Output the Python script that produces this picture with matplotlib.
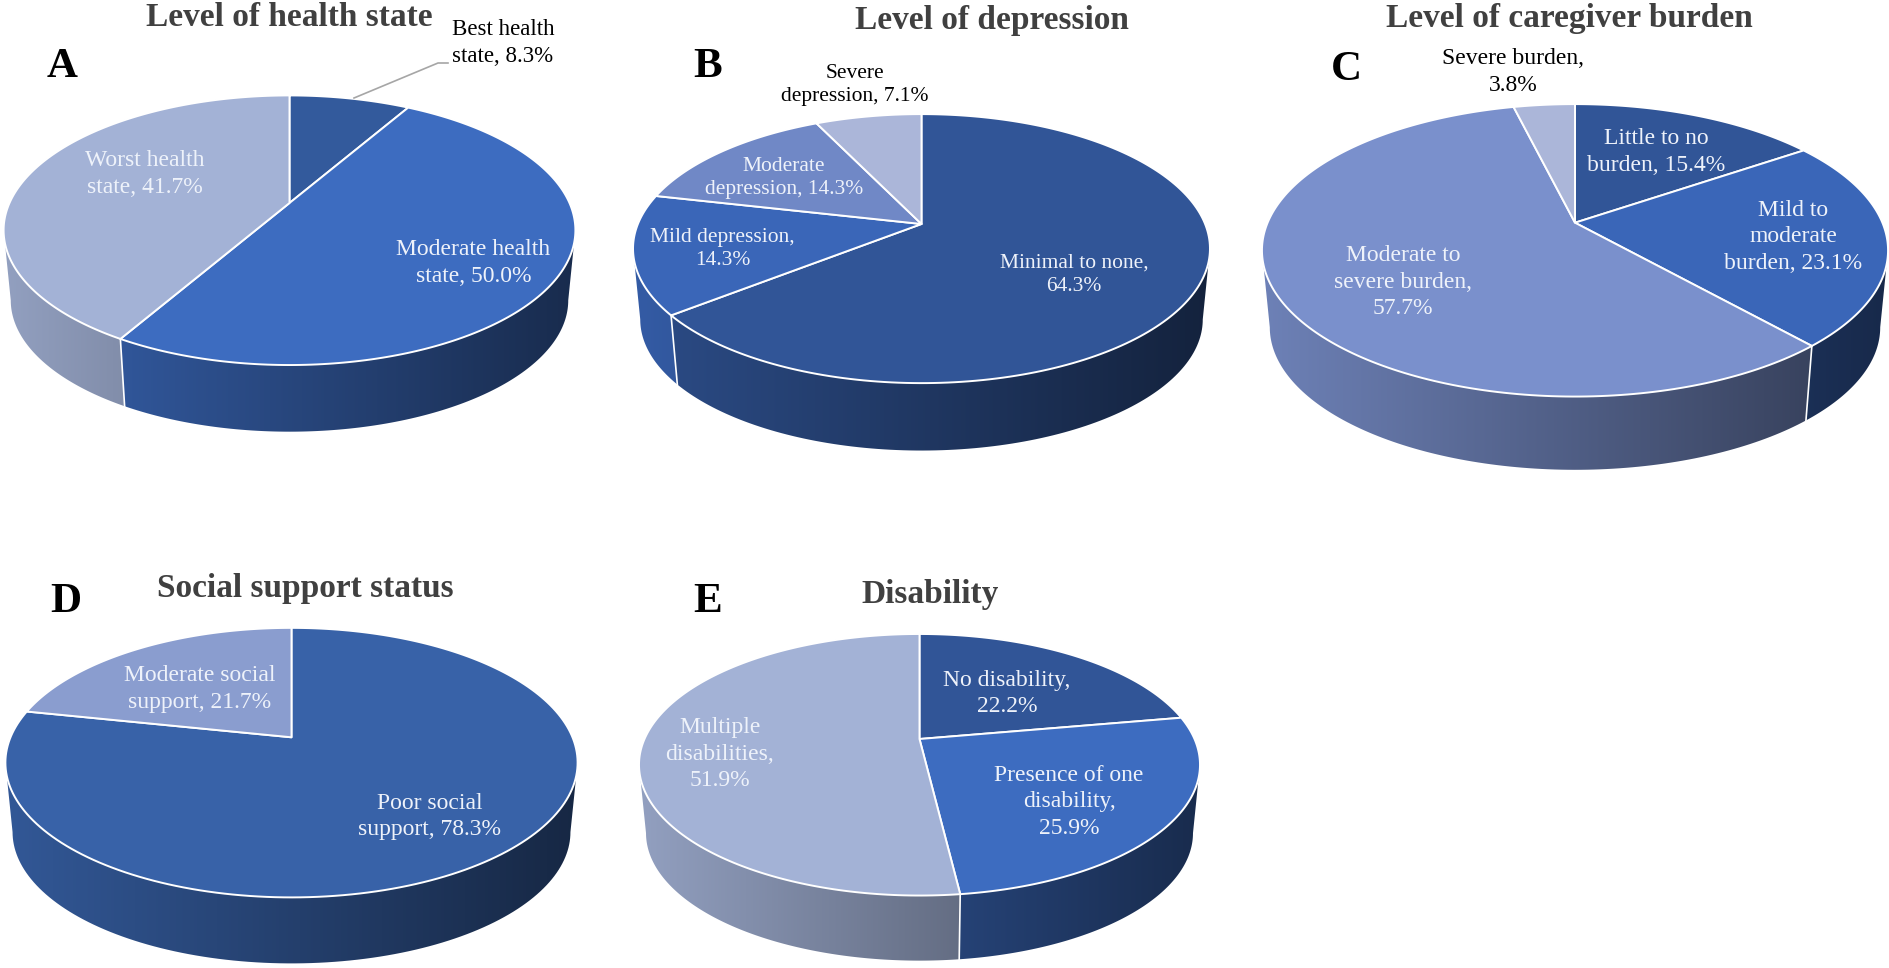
import numpy as np
import matplotlib
matplotlib.use("Agg")
import matplotlib.pyplot as plt
from matplotlib.colors import to_rgb
from matplotlib.patches import Polygon

plt.rcParams['font.family'] = ['Liberation Serif', 'DejaVu Serif']

# values, percent, clockwise from 12 o'clock
health_values = [8.3, 50.0, 41.7]
depression_values = [64.3, 14.3, 14.3, 7.1]
burden_values = [15.4, 23.1, 57.7, 3.8]
support_values = [78.3, 21.7]
disability_values = [22.2, 25.9, 51.9]

titles = ["Level of health state", "Level of depression", "Level of caregiver burden",
          "Social support status", "Disability"]
letters = ["A", "B", "C", "D", "E"]

health_colors = ["#335a9c", "#3d6cc0", "#a3b2d6"]
depression_colors = ["#315597", "#3a66b8", "#7088c6", "#abb6d9"]
burden_colors = ["#315597", "#3a66b8", "#7a90cc", "#abb6d9"]
support_colors = ["#3862a8", "#8a9dcf"]
disability_colors = ["#315597", "#3d6cc0", "#a3b2d6"]

# pie geometry in image pixels: cx, cy, a, b, perspective, depth
geometry = [
    (289.5, 203, 280, 129.3, 0.202, 70.7),
    (921.5, 224, 283.6, 130, 0.183, 71.4),
    (1575, 222.7, 307.4, 141, 0.189, 77.6),
    (291.5, 737.3, 281, 130, 0.188, 70),
    (919.5, 739, 275, 125.7, 0.197, 69),
]
title_pos = [(289.5, 18), (992, 20), (1569, 19), (305.5, 589), (930.5, 594)]
letter_pos = [(62, 67), (708, 67), (1346, 70), (66, 602), (708, 602)]

# text, x, y, colour, size
labels = [
    ("Best health\nstate, 8.3%", 503, 43, "black", 16.5),
    ("Worst health\nstate, 41.7%", 145, 174, "#eef2fa", 17),
    ("Moderate health\nstate, 50.0%", 473.5, 263, "#eef2fa", 17),
    ("Severe\ndepression, 7.1%", 855, 85, "black", 15.5),
    ("Moderate\ndepression, 14.3%", 784, 178, "#eef2fa", 15.5),
    ("Mild depression,\n14.3%", 722.5, 249, "#eef2fa", 15.5),
    ("Minimal to none,\n64.3%", 1074, 275, "#eef2fa", 15.5),
    ("Severe burden,\n3.8%", 1513, 72, "black", 17),
    ("Little to no\nburden, 15.4%", 1656, 152, "#eef2fa", 17),
    ("Mild to\nmoderate\nburden, 23.1%", 1793, 237, "#eef2fa", 17),
    ("Moderate to\nsevere burden,\n57.7%", 1403, 282, "#eef2fa", 17),
    ("Moderate social\nsupport, 21.7%", 200, 689, "#eef2fa", 17),
    ("Poor social\nsupport, 78.3%", 430, 816.5, "#eef2fa", 17),
    ("No disability,\n22.2%", 1007, 693.5, "#eef2fa", 17),
    ("Presence of one\ndisability,\n25.9%", 1069, 802, "#eef2fa", 17),
    ("Multiple\ndisabilities,\n51.9%", 719.6, 754, "#eef2fa", 17),
]


def rim(theta, geo, low=False):
    # point on the pie edge, seen in perspective
    cx, cy, a, b, k, depth = geo
    X, Y = np.sin(theta), np.cos(theta)
    scale = 0.975 if low else 1.0
    px = cx + scale * a * X / (1 + k * Y)
    py = cy - scale * b * Y / (1 + k * Y)
    if low:
        py = py + depth
    return px, py


def draw_pie(ax, values, colors, geo):
    cx, cy, a, k = geo[0], geo[1], geo[2], geo[4]
    edges = np.radians(np.concatenate([[0], np.cumsum(values)]) / np.sum(values) * 360)
    half = a * 1.03
    # visible wall runs between the two widest points of the ellipse
    turn = np.arccos(-k)
    front = (turn, 2 * np.pi - turn)

    # side wall, shaded from left to right
    for i, col in enumerate(colors):
        t0, t1 = max(edges[i], front[0]), min(edges[i + 1], front[1])
        if t1 <= t0:
            continue
        th = np.linspace(t0, t1, 120)
        tx, ty = rim(th, geo)
        bx, by = rim(th[::-1], geo, low=True)
        poly = Polygon(np.column_stack([np.r_[tx, bx], np.r_[ty, by]]),
                       transform=ax.transData, fc="none", ec="none")
        ax.add_patch(poly)
        shade = np.linspace(0.9, 0.4, 256)[None, :, None] * np.array(to_rgb(col))[None, None, :]
        im = ax.imshow(shade, extent=(cx - half, cx + half, 968, 0), aspect="auto",
                       interpolation="bilinear", zorder=1)
        im.set_clip_path(poly)

    # white seams on the wall
    for t in edges[1:-1]:
        if front[0] < t < front[1]:
            tx, ty = rim(t, geo)
            bx, by = rim(t, geo, low=True)
            ax.plot([tx, bx], [ty, by], color="white", lw=1.2, zorder=2)

    # top face
    for i, col in enumerate(colors):
        th = np.linspace(edges[i], edges[i + 1], 200)
        tx, ty = rim(th, geo)
        ax.add_patch(Polygon(np.column_stack([np.r_[cx, tx], np.r_[cy, ty]]), closed=True,
                             fc=col, ec="white", lw=1.4, joinstyle="round", zorder=3))


fig = plt.figure(figsize=(18.9, 9.68), dpi=100, facecolor="white")
ax = fig.add_axes([0, 0, 1, 1])

all_values = [health_values, depression_values, burden_values, support_values, disability_values]
all_colors = [health_colors, depression_colors, burden_colors, support_colors, disability_colors]
for vals, cols, geo in zip(all_values, all_colors, geometry):
    draw_pie(ax, vals, cols, geo)

ax.set_xlim(0, 1890)
ax.set_ylim(968, 0)
ax.axis("off")

for t, (x, y) in zip(titles, title_pos):
    ax.text(x, y, t, ha="center", va="center", fontsize=24, fontweight="bold", color="#404040", zorder=5)
for t, (x, y) in zip(letters, letter_pos):
    ax.text(x, y, t, ha="center", va="center", fontsize=31, fontweight="bold", color="black", zorder=5)
for t, x, y, c, s in labels:
    ax.text(x, y, t, ha="center", va="center", color=c, fontsize=s, linespacing=1.35, zorder=5)

# leader for the small slice in A
ax.plot([448, 438, 354], [63, 63, 98], color="#a6a6a6", lw=1.2, zorder=4)

fig.savefig("out.png", dpi=100)
